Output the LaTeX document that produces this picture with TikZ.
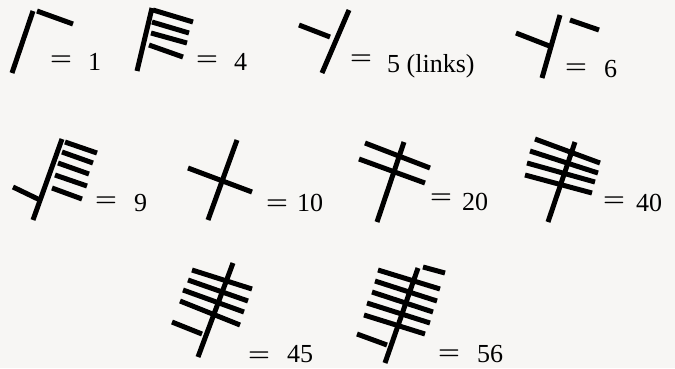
\documentclass[tikz,border=0pt]{standalone}
\usepackage{fontspec}
\newfontfamily\numfont{Liberation Serif}
\definecolor{paper}{RGB}{247,246,244}
\begin{document}
\begin{tikzpicture}[x=1pt,y=-1pt,
  st/.style={line width=5pt, black},
  eqs/.style={anchor=base west, inner sep=0pt, font=\bfseries\fontsize{25}{30}\selectfont},
  lbl/.style={anchor=base west, inner sep=0pt, font=\numfont\fontsize{26}{30}\selectfont}]
\fill[paper] (0,0) rectangle (675,368);
\useasboundingbox (0,0) rectangle (675,368);
% ---- 1
\draw[st] (12,73) -- (33,11);
\draw[st] (37,11) -- (73,24);
\node[eqs] (e1) at (50,65.75) {=};
\node[lbl] (n1) at (88,70) {1};
% ---- 4
\draw[st] (137,71) -- (152,8);
\draw[st] (153,10) -- (193,22);
\draw[st] (152,22) -- (189,33);
\draw[st] (151,33) -- (187,43);
\draw[st] (149,45) -- (183,57);
\node[eqs] (e4) at (196,65.25) {=};
\node[lbl] (n4) at (234,70) {4};
% ---- 5
\draw[st] (322,73) -- (349,10);
\draw[st] (299,25) -- (330,37);
\node[eqs] (e5) at (350,64.75) {=};
\node[lbl] (n5) at (387,72) {5 (links)};
% ---- 6
\draw[st] (542,78) -- (560,15);
\draw[st] (516,33) -- (552,47);
\draw[st] (570,20) -- (599,30);
\node[eqs] (e6) at (565,73.5) {=};
\node[lbl] (n6) at (604,77) {6};
% ---- 9
\draw[st] (33,220) -- (62,139);
\draw[st] (13,187) -- (40,200);
\draw[st] (65,142) -- (97,153);
\draw[st] (62,152) -- (93,163);
\draw[st] (58,163) -- (89,174);
\draw[st] (55,175) -- (87,186);
\draw[st] (52,188) -- (82,199);
\node[eqs] (e9) at (95,206.25) {=};
\node[lbl] (n9) at (134,211) {9};
% ---- 10
\draw[st] (208,220) -- (237,140);
\draw[st] (188,168) -- (252,192);
\node[eqs] (e10) at (266,209.25) {=};
\node[lbl] (n10) at (297,211) {10};
% ---- 20
\draw[st] (377,222) -- (404,142);
\draw[st] (365,143) -- (430,168);
\draw[st] (359,159) -- (425,183);
\node[eqs] (e20) at (430,203.25) {=};
\node[lbl] (n20) at (462,210) {20};
% ---- 40
\draw[st] (548,222) -- (575,142);
\draw[st] (535,139) -- (600,163);
\draw[st] (530,151) -- (598,173);
\draw[st] (527,163) -- (595,182);
\draw[st] (525,175) -- (592,193);
\node[eqs] (e40) at (603,206.25) {=};
\node[lbl] (n40) at (636,211) {40};
% ---- 45
\draw[st] (198,357) -- (233,263);
\draw[st] (172,322) -- (202,334);
\draw[st] (192,270) -- (252,289);
\draw[st] (188,280) -- (248,301);
\draw[st] (183,290) -- (244,312);
\draw[st] (180,301) -- (240,325);
\node[eqs] (e45) at (248,361.25) {=};
\node[lbl] (n45) at (287,362) {45};
% ---- 56
\draw[st] (385,363) -- (418,268);
\draw[st] (423,267) -- (445,273);
\draw[st] (357,334) -- (387,345);
\draw[st] (378,270) -- (440,289);
\draw[st] (375,281) -- (437,301);
\draw[st] (372,292) -- (433,312);
\draw[st] (367,303) -- (430,323);
\draw[st] (364,315) -- (425,334);
\node[eqs] (e56) at (438,359.75) {=};
\node[lbl] (n56) at (477,362) {56};
\end{tikzpicture}
\end{document}
